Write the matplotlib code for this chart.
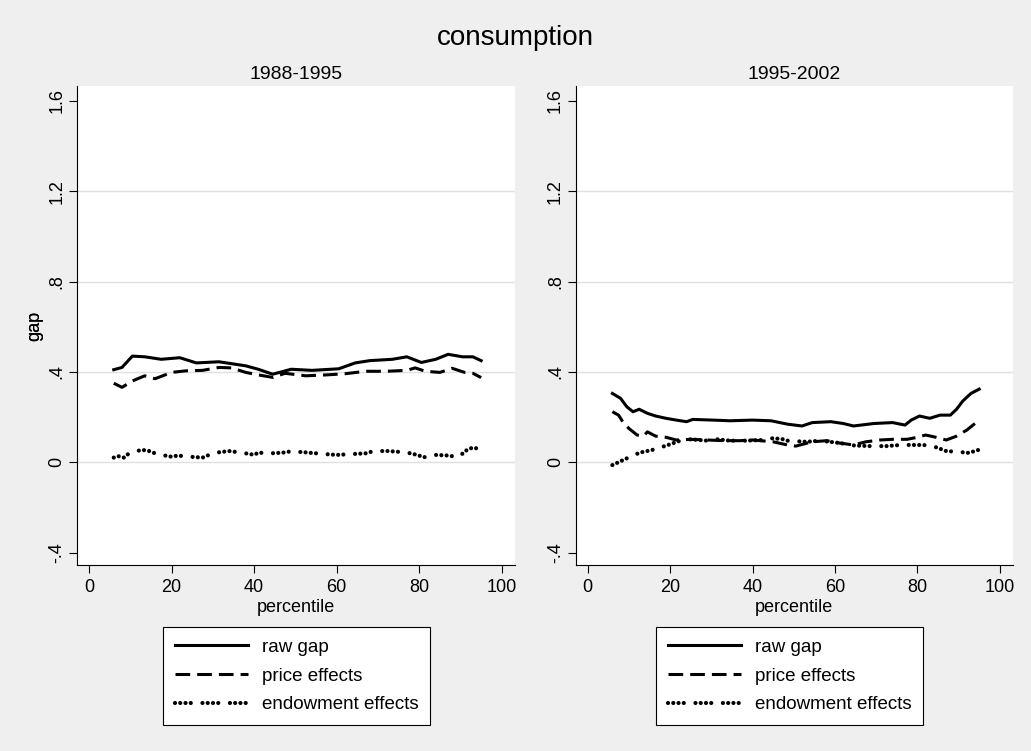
import numpy as np
import matplotlib
matplotlib.use('Agg')
import matplotlib.pyplot as plt

#=================================================================================================#

# DATA

# 1988-1995
pct_raw_a   = [6, 8, 10.5, 13.5, 17.5, 22, 26, 31.5, 38, 41, 44.5, 49, 54, 60.5, 64.5, 68, 73.5, 77, 80.5, 84, 87, 90.5, 93, 95]
raw_a       = [.41, .42, .47, .467, .456, .463, .44, .445, .427, .412, .39, .412, .407, .414, .44, .45, .456, .467, .442, .456, .478, .467, .467, .45]
pct_price_a = [6, 8, 10.5, 13.5, 16, 20, 23.5, 27.5, 31.5, 34.5, 38, 41, 44.5, 47.5, 52.5, 57.5, 62, 67, 72, 77, 79, 81.5, 85, 88, 91, 93, 95]
price_a     = [.35, .332, .36, .383, .37, .398, .405, .407, .42, .418, .398, .387, .376, .394, .383, .387, .392, .403, .403, .407, .418, .403, .398, .416, .398, .394, .375]
pct_endw_a  = [6, 7, 8.5, 9.5, 11, 12.5, 14, 15, 16, 17.5, 19, 20, 21.5, 24.5, 27.5, 30, 32, 34, 36.5, 39,
               40, 41, 44, 47, 49, 52.5, 57, 60, 64, 67, 69, 72.5, 75.5, 78, 80, 81, 84, 86.5, 89.5, 91.5, 93, 95]
endw_a      = [.021, .028, .021, .037, .047, .054, .054, .047, .040, .034, .028, .025, .030, .025, .021, .040, .046, .050, .044, .037,
               .033, .043, .040, .043, .049, .044, .037, .033, .037, .040, .050, .050, .046, .040, .030, .022, .033, .031, .024, .054, .066, .057]

# 1995-2002
pct_raw_b   = [6, 8, 9.5, 11, 12.5, 14.5, 16.5, 19, 21.5, 24, 25.5, 30.5, 34.5, 40, 44.5, 48.5, 52, 54.5, 59, 62,
               64.5, 69.5, 74, 77, 78.5, 80.5, 83, 85.5, 88, 89.5, 91, 93, 95]
raw_b       = [.305, .283, .246, .224, .235, .217, .205, .195, .187, .180, .190, .187, .184, .187, .184, .169, .161, .176, .180, .172,
               .161, .172, .176, .165, .187, .205, .195, .209, .209, .235, .271, .305, .324]
pct_price_b = [6, 7.5, 8.5, 10, 12, 13.5, 14.5, 16.5, 19, 21.5, 25, 29, 33, 37, 40, 45, 48.5, 50.5, 54.5, 58,
               61, 64.5, 67.5, 71, 74, 77.5, 80, 82, 84.5, 87, 89.5, 92, 95]
price_b     = [.224, .209, .180, .150, .121, .116, .135, .116, .111, .099, .102, .099, .096, .096, .099, .091, .077, .072, .091, .096,
               .086, .077, .091, .099, .102, .102, .111, .121, .111, .099, .116, .143, .187]
pct_endw_b  = [6, 11.5, 13.5, 15.5, 17.5, 19.5, 22.5, 25, 29, 31.5, 34.5, 38.5, 42.5, 45, 47.5, 48.5, 53, 56.5, 61, 64.5,
               68.5, 72.5, 76, 79, 81.5, 84.5, 87, 89.5, 92.5, 95]
endw_b      = [-.012, .035, .047, .054, .065, .077, .096, .102, .096, .102, .096, .096, .099, .107, .102, .096, .091, .096, .086, .075,
               .072, .072, .077, .077, .077, .067, .050, .047, .042, .056]

panels = [('1988-1995', pct_raw_a, raw_a, pct_price_a, price_a, pct_endw_a, endw_a),
          ('1995-2002', pct_raw_b, raw_b, pct_price_b, price_b, pct_endw_b, endw_b)]

yticks  = [-.4, 0, .4, .8, 1.2, 1.6]
ylabels = ['-.4', '0', '.4', '.8', '1.2', '1.6']
xticks  = [0, 20, 40, 60, 80, 100]

#=================================================================================================#

# Plotting

plt.rcParams['font.family'] = ['Liberation Sans', 'DejaVu Sans']
bg = '#efefef'

W, H = 1031, 751
fig = plt.figure(figsize=(W/100, H/100), dpi=100, facecolor=bg)
fig.suptitle('consumption', fontsize=20, y=1-38/H, va='center')

# axes boxes in pixels: left, right, top, bottom
boxes  = [(77, 515, 86, 565), (575.7, 1013, 86, 565)]
legpos = [296.5, 789.5]

dashed = (0, (4.8, 2.3))
dotted = (0, (0.01, 1.25, 0.01, 1.25, 0.01, 1.25, 0.01, 2.8))

for k, (ttl, xr, yr, xp, yp, xe, ye) in enumerate(panels):
    l, r, t, b = boxes[k]
    ax = fig.add_axes([l/W, 1-b/H, (r-l)/W, (b-t)/H])
    ax.set_facecolor('white')

    ax.plot(xr, yr, color='black', lw=2.2, label='raw gap')
    ax.plot(xp, yp, color='black', lw=2.2, linestyle=dashed, label='price effects')
    ax.plot(xe, ye, color='black', lw=3.0, linestyle=dotted, dash_capstyle='round', label='endowment effects')

    ax.set_xlim(-2.9, 103.2)
    ax.set_ylim(-0.454, 1.665)
    ax.set_xticks(xticks)
    ax.set_yticks(yticks)
    ax.set_yticklabels(ylabels, rotation=90, va='center')
    ax.tick_params(axis='x', length=5.5, width=0.8, pad=4.5, labelsize=13)
    ax.tick_params(axis='y', length=6, width=0.8, pad=2.5, labelsize=13)

    ax.grid(axis='y', color='#e0e0e0', lw=1.0)
    ax.set_axisbelow(True)
    ticks = ax.yaxis.get_major_ticks()
    ticks[0].gridline.set_visible(False)
    ticks[-1].gridline.set_visible(False)

    for s in ['top', 'right']:
        ax.spines[s].set_visible(False)
    for s in ['left', 'bottom']:
        ax.spines[s].set_linewidth(0.8)

    ax.set_title(ttl, fontsize=14, pad=5)
    ax.set_xlabel('percentile', fontsize=13)
    ax.xaxis.set_label_coords(0.5, (b-608)/(b-t))
    ax.xaxis.label.set_va('center')
    ax.set_ylabel('gap', fontsize=13)
    ax.yaxis.set_label_coords((35-l)/(r-l), 0.5)
    ax.yaxis.label.set_va('center')

    leg = ax.legend(loc='center', bbox_to_anchor=(legpos[k]/W, 1-676/H), bbox_transform=fig.transFigure,
                    fontsize=13.5, handlelength=3.9, handletextpad=0.75, labelspacing=0.62, borderpad=0.6,
                    fancybox=False, framealpha=1, edgecolor='black')
    leg.get_frame().set_linewidth(0.8)

plt.savefig('out.png', dpi=100, facecolor=bg)
